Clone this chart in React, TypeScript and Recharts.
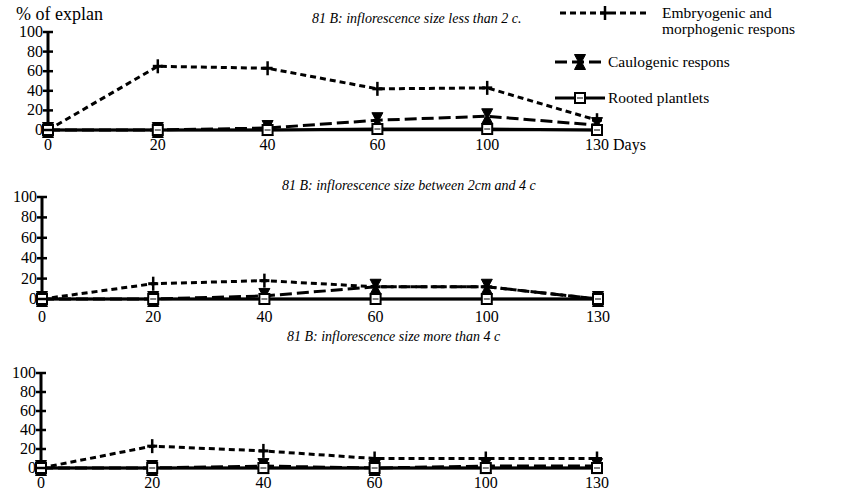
import React from 'react';
import { LineChart, Line, XAxis, YAxis, Legend } from 'recharts';

const days = ['0', '20', '40', '60', '100', '130'];
const yTicks = [0, 20, 40, 60, 80, 100];

const p1Embryo = [0, 65, 63, 42, 43, 10];
const p1Caulo = [0, 0, 2, 10, 14, 5];
const p1Rooted = [0, 0, 0, 1, 1, 0];

const p2Embryo = [0, 15, 18, 12, 12, 0];
const p2Caulo = [0, 0, 3, 12, 12, 0];
const p2Rooted = [0, 0, 0, 0, 0, 0];

const p3Embryo = [0, 23, 18, 10, 10, 10];
const p3Caulo = [0, 0, 2, 0, 2, 2];
const p3Rooted = [0, 0, 0, 0, 0, 0];

const panelTitles = [
  '81 B: inflorescence size less than 2 c.',
  '81 B: inflorescence size between 2cm and 4 c',
  '81 B: inflorescence size more than 4 c',
];

const yAxisTitle = '% of explan';
const xUnit = 'Days';

const SERIF = '"Liberation Serif", "Times New Roman", serif';

function build(e: number[], c: number[], r: number[]) {
  return days.map((d, i) => ({ day: d, embryo: e[i], caulo: c[i], rooted: r[i] }));
}

const data1 = build(p1Embryo, p1Caulo, p1Rooted);
const data2 = build(p2Embryo, p2Caulo, p2Rooted);
const data3 = build(p3Embryo, p3Caulo, p3Rooted);

const PlusShape = ({ cx, cy }: { cx: number; cy: number }) => (
  <g>
    <line x1={cx - 5} x2={cx + 5} y1={cy} y2={cy} stroke="#000" strokeWidth={3} />
    <line x1={cx} x2={cx} y1={cy - 7} y2={cy + 7} stroke="#000" strokeWidth={2.5} />
  </g>
);

const BowShape = ({ cx, cy }: { cx: number; cy: number }) => (
  <polygon
    points={`${cx - 5.5},${cy - 7.5} ${cx + 5.5},${cy - 7.5} ${cx + 1.5},${cy} ${cx + 5.5},${cy + 7.5} ${cx - 5.5},${cy + 7.5} ${cx - 1.5},${cy}`}
    fill="#000"
    stroke="#000"
    strokeWidth={1}
  />
);

const SquareShape = ({ cx, cy }: { cx: number; cy: number }) => (
  <g>
    <rect x={cx - 5} y={cy - 5} width={10} height={10} fill="#fff" stroke="#000" strokeWidth={2} />
    <line x1={cx - 3} x2={cx + 3} y1={cy} y2={cy} stroke="#555" strokeWidth={1.5} />
  </g>
);

const dotFor = (Shape: any) => (props: any) => {
  const { cx, cy, index } = props;
  if (cx == null || cy == null) return <g key={`d${index}`} />;
  return <g key={`d${index}`}><Shape cx={cx} cy={cy} /></g>;
};

const YTick = (props: any) => {
  const { x, y, payload } = props;
  return (
    <g>
      <line x1={x - 5} x2={x + 5} y1={y} y2={y} stroke="#000" strokeWidth={2.5} />
      <text x={x - 5} y={y} dy={5} textAnchor="end" fontFamily={SERIF} fontSize={16} fill="#000">
        {payload.value}
      </text>
    </g>
  );
};

const makeXTick = (withUnit: boolean, dy: number) => (props: any) => {
  const { x, y, payload } = props;
  const last = payload.value === days[days.length - 1];
  return (
    <g>
      <text x={x} y={y} dy={dy} textAnchor="middle" fontFamily={SERIF} fontSize={16} fill="#000">
        {payload.value}
      </text>
      {withUnit && last ? (
        <text x={x + 16} y={y} dy={dy} textAnchor="start" fontFamily={SERIF} fontSize={16} fill="#000">
          {xUnit}
        </text>
      ) : null}
    </g>
  );
};

const legendShapes: Record<string, any> = { embryo: PlusShape, caulo: BowShape, rooted: SquareShape };
const legendDash: Record<string, string | undefined> = { embryo: '6 4', caulo: '12 5', rooted: undefined };

const LegendContent = (props: any) => {
  const payload = props.payload || [];
  const rows: Record<string, { y: number; x1: number; x2: number; tx: number }> = {
    embryo: { y: 13, x1: 20, x2: 110, tx: 122 },
    caulo: { y: 62, x1: 15, x2: 65, tx: 68 },
    rooted: { y: 98, x1: 15, x2: 65, tx: 68 },
  };
  return (
    <svg width={302} height={115} style={{ overflow: 'visible' }}>
      {payload.map((p: any) => {
        const key = p.dataKey as string;
        const r = rows[key];
        if (!r) return null;
        const Shape = legendShapes[key];
        const lines = String(p.value).split('\n');
        return (
          <g key={key}>
            <line x1={r.x1} x2={r.x2} y1={r.y} y2={r.y} stroke="#000" strokeWidth={3} strokeDasharray={legendDash[key]} />
            <Shape cx={(r.x1 + r.x2) / 2} cy={r.y} />
            {lines.map((t: string, i: number) => (
              <text key={i} x={r.tx} y={r.y + 5 + i * 16} fontFamily={SERIF} fontSize={15.5} fill="#000">
                {t}
              </text>
            ))}
          </g>
        );
      })}
    </svg>
  );
};

const seriesNames = {
  embryo: 'Embryogenic and\nmorphogenic respons',
  caulo: 'Caulogenic respons',
  rooted: 'Rooted plantlets',
};

type PanelProps = {
  data: any[];
  top: number;
  height: number;
  margin: { top: number; right: number; bottom: number; left: number };
  yWidth: number;
  withUnit: boolean;
  withLegend: boolean;
  xDy: number;
};

const Panel = ({ data, top, height, margin, yWidth, withUnit, withLegend, xDy }: PanelProps) => (
  <div style={{ position: 'absolute', left: 0, top }}>
    <LineChart width={842} height={height} data={data} margin={margin}>
      <XAxis
        dataKey="day"
        height={20}
        axisLine={{ stroke: '#000', strokeWidth: 2.5 }}
        tickLine={false}
        tickSize={0}
        tickMargin={0}
        interval={0}
        tick={makeXTick(withUnit, xDy)}
      />
      <YAxis
        type="number"
        domain={[0, 100]}
        ticks={yTicks}
        width={yWidth}
        axisLine={{ stroke: '#000', strokeWidth: 3 }}
        tickLine={false}
        tickSize={0}
        tickMargin={0}
        interval={0}
        tick={<YTick />}
      />
      {withLegend ? (
        <Legend
          layout="vertical"
          align="center"
          verticalAlign="middle"
          content={<LegendContent />}
          wrapperStyle={{ left: 540, top: 0, width: 302, height: 115 }}
        />
      ) : null}
      <Line
        type="linear"
        dataKey="embryo"
        name={seriesNames.embryo}
        stroke="#000"
        strokeWidth={3}
        strokeDasharray="6 4"
        dot={dotFor(PlusShape)}
        activeDot={false}
        isAnimationActive={false}
      />
      <Line
        type="linear"
        dataKey="caulo"
        name={seriesNames.caulo}
        stroke="#000"
        strokeWidth={3}
        strokeDasharray="12 5"
        dot={dotFor(BowShape)}
        activeDot={false}
        isAnimationActive={false}
      />
      <Line
        type="linear"
        dataKey="rooted"
        name={seriesNames.rooted}
        stroke="#000"
        strokeWidth={3}
        dot={dotFor(SquareShape)}
        activeDot={false}
        isAnimationActive={false}
      />
    </LineChart>
  </div>
);

const titleStyle: React.CSSProperties = {
  position: 'absolute',
  fontFamily: SERIF,
  fontStyle: 'italic',
  fontSize: 14,
  color: '#000',
  whiteSpace: 'nowrap',
  lineHeight: '16px',
};

export default function App() {
  return (
    <div style={{ position: 'absolute', left: 0, top: 0, width: 842, height: 494, background: '#fff', overflow: 'hidden' }}>
      <Panel data={data1} top={0} height={155} margin={{ top: 32, right: 245, bottom: 5, left: 0 }} yWidth={48} withUnit withLegend xDy={20} />
      <Panel data={data2} top={160} height={164} margin={{ top: 37, right: 244, bottom: 5, left: 0 }} yWidth={42} withUnit={false} withLegend={false} xDy={23} />
      <Panel data={data3} top={330} height={163} margin={{ top: 43, right: 245, bottom: 5, left: 0 }} yWidth={41} withUnit={false} withLegend={false} xDy={20} />
      <div style={{ position: 'absolute', left: 16, top: 4, fontFamily: SERIF, fontSize: 18, lineHeight: '20px', color: '#000' }}>{yAxisTitle}</div>
      <div style={{ ...titleStyle, left: 312, top: 11 }}>{panelTitles[0]}</div>
      <div style={{ ...titleStyle, left: 282, top: 178 }}>{panelTitles[1]}</div>
      <div style={{ ...titleStyle, left: 287, top: 329 }}>{panelTitles[2]}</div>
    </div>
  );
}
